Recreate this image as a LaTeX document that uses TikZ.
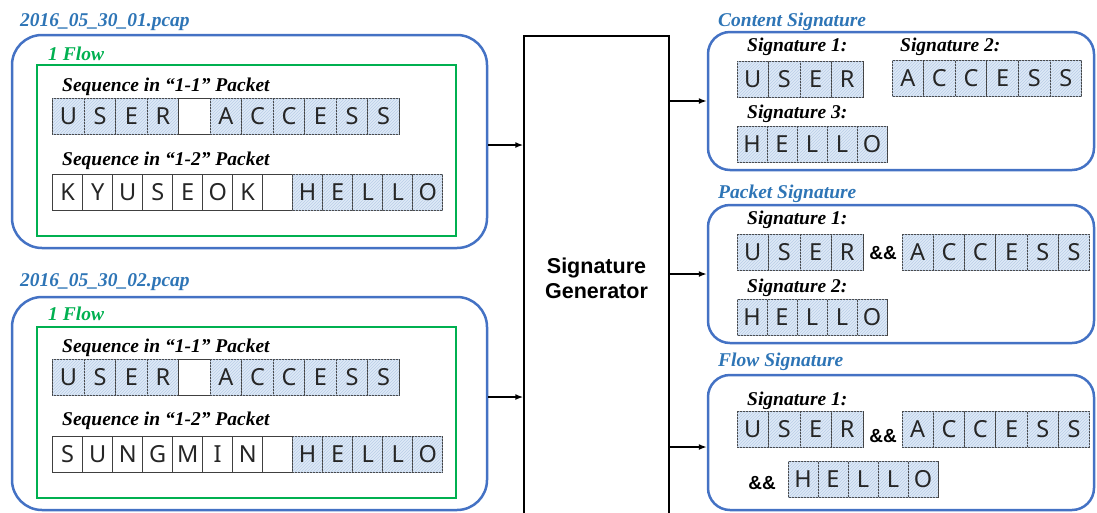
\documentclass[tikz,border=0pt]{standalone}
\usepackage{fontspec}
\setmainfont{Liberation Serif}
\newfontfamily\arialfont{Liberation Sans}
\newfontfamily\cellfont{Noto Sans}
\usepackage{tikz}
\usetikzlibrary{arrows.meta,positioning,patterns,calc}

\definecolor{boxblue}{RGB}{68,114,196}
\definecolor{titleblue}{RGB}{46,117,182}
\definecolor{flowgreen}{RGB}{0,176,80}
\definecolor{cellfill}{RGB}{222,234,247}
\definecolor{hatchcol}{RGB}{186,206,232}

% one row of letter cells: name, left x, centre y, cell width, letters
\newcommand{\seqrow}[5]{%
  \foreach \ch/\st [count=\i] in {#5} {
    \node[cell, \st, minimum width=#4] (#1-\i) at ({#2+(\i-0.5)*#4}, #3) {\ch};
  }}

\begin{document}
\begin{tikzpicture}[
    x=1pt, y=-1pt,
    filebox/.style={draw=boxblue, line width=2.5pt, rounded corners=30pt, minimum width=475pt, minimum height=213pt},
    flowbox/.style={draw=flowgreen, line width=2.8pt, minimum width=419pt, minimum height=171pt},
    sigbox/.style={draw=boxblue, line width=2.5pt, rounded corners=22pt, minimum width=386pt},
    gen/.style={draw, line width=1.5pt, minimum width=145pt, minimum height=484pt, align=center,
                font=\arialfont\bfseries\fontsize{21.5}{25}\selectfont},
    cell/.style={draw=black!75, line width=0.9pt, minimum height=36pt, inner sep=0pt,
                 font=\cellfont\fontsize{23.5}{23.5}\selectfont, text=black!85},
    hl/.style={fill=cellfill, postaction={pattern=north east lines, pattern color=hatchcol}},
    pl/.style={fill=white},
    lbl/.style={anchor=base west, inner sep=0pt, font=\bfseries\itshape\fontsize{19.5}{21}\selectfont},
    ttl/.style={lbl, text=titleblue},
    flw/.style={lbl, text=flowgreen},
    andand/.style={inner sep=0pt, font=\arialfont\bfseries\fontsize{19}{21}\selectfont},
    arrow/.style={-{Latex[length=8pt, width=6pt]}, line width=1.5pt}
]
\useasboundingbox (0,0) rectangle (1097,512);
\clip (0,0) rectangle (1097,512);

% input captures
\node[ttl] (t1) at (20,26.5) {2016\_05\_30\_01.pcap};
\node[filebox] (f1) at (249.5,141.5) {};
\node[flowbox] (g1) at (246.5,150.5) {};
\node[flw] (fl1) at (48,60) {1 Flow};
\node[lbl] (s11) at (62,91.7) {Sequence in “1-1” Packet};
\seqrow{f1a}{52.7}{116}{31.5}{U/hl,S/hl,E/hl,R/hl,{}/pl,A/hl,C/hl,C/hl,E/hl,S/hl,S/hl}
\node[lbl] (s12) at (62,165) {Sequence in “1-2” Packet};
\seqrow{f1b}{52.7}{192.5}{30}{K/pl,Y/pl,U/pl,S/pl,E/pl,O/pl,K/pl,{}/pl,H/hl,E/hl,L/hl,L/hl,O/hl}

\node[ttl] (t2) at (20,286.7) {2016\_05\_30\_02.pcap};
\node[filebox] (f2) at (249.5,403.5) {};
\node[flowbox] (g2) at (246.5,412.5) {};
\node[flw] (fl2) at (48,320.7) {1 Flow};
\node[lbl] (s21) at (62,352.3) {Sequence in “1-1” Packet};
\seqrow{f2a}{52.7}{377}{31.5}{U/hl,S/hl,E/hl,R/hl,{}/pl,A/hl,C/hl,C/hl,E/hl,S/hl,S/hl}
\node[lbl] (s22) at (62,425.7) {Sequence in “1-2” Packet};
\seqrow{f2b}{52.7}{454}{30}{S/pl,U/pl,N/pl,G/pl,M/pl,I/pl,N/pl,{}/pl,H/hl,E/hl,L/hl,L/hl,O/hl}

% generator
\node[gen] (gen) at (596.5,278) {Signature\\Generator};

% content signature
\node[ttl] (tc) at (718,26.7) {Content Signature};
\node[sigbox, minimum height=138pt] (cs) at (901,101) {};
\node[lbl] (c1l) at (747,51.7) {Signature 1:};
\node[lbl] (c2l) at (900,51.7) {Signature 2:};
\seqrow{c1}{737}{79}{31.5}{U/hl,S/hl,E/hl,R/hl}
\seqrow{c2}{892}{78.5}{31.6}{A/hl,C/hl,C/hl,E/hl,S/hl,S/hl}
\node[lbl] (c3l) at (747,118.3) {Signature 3:};
\seqrow{c3}{737}{144}{30}{H/hl,E/hl,L/hl,L/hl,O/hl}

% packet signature
\node[ttl] (tp) at (718,198.3) {Packet Signature};
\node[sigbox, minimum height=138pt] (ps) at (901,274) {};
\node[lbl] (p1l) at (747,224.3) {Signature 1:};
\seqrow{p1}{737}{252.5}{31.5}{U/hl,S/hl,E/hl,R/hl}
\node[andand] (pa) at (883,253) {\&\&};
\seqrow{p2}{902}{252}{31.3}{A/hl,C/hl,C/hl,E/hl,S/hl,S/hl}
\node[lbl] (p2l) at (747,292.3) {Signature 2:};
\seqrow{p3}{737}{317.5}{30}{H/hl,E/hl,L/hl,L/hl,O/hl}

% flow signature
\node[ttl] (tf) at (718,366) {Flow Signature};
\node[sigbox, minimum height=135pt] (fs) at (901,442.5) {};
\node[lbl] (w1l) at (747,405) {Signature 1:};
\seqrow{w1}{737}{429}{31.5}{U/hl,S/hl,E/hl,R/hl}
\node[andand] (wa) at (883,436) {\&\&};
\seqrow{w2}{902}{429}{31.3}{A/hl,C/hl,C/hl,E/hl,S/hl,S/hl}
\node[andand] (wb) at (762,483) {\&\&};
\seqrow{w3}{788}{479}{30}{H/hl,E/hl,L/hl,L/hl,O/hl}

\coordinate (in1) at ([yshift=-3.5pt]f1.east);
\coordinate (in2) at ([yshift=6.5pt]f2.east);
\coordinate (out3) at ([yshift=-4.5pt]fs.west);
\draw[arrow] (in1) -- (in1 -| gen.west);
\draw[arrow] (in2) -- (in2 -| gen.west);
\draw[arrow] (gen.east |- cs.west) -- (cs.west);
\draw[arrow] (gen.east |- ps.west) -- (ps.west);
\draw[arrow] (gen.east |- out3) -- (out3);
\end{tikzpicture}
\end{document}
